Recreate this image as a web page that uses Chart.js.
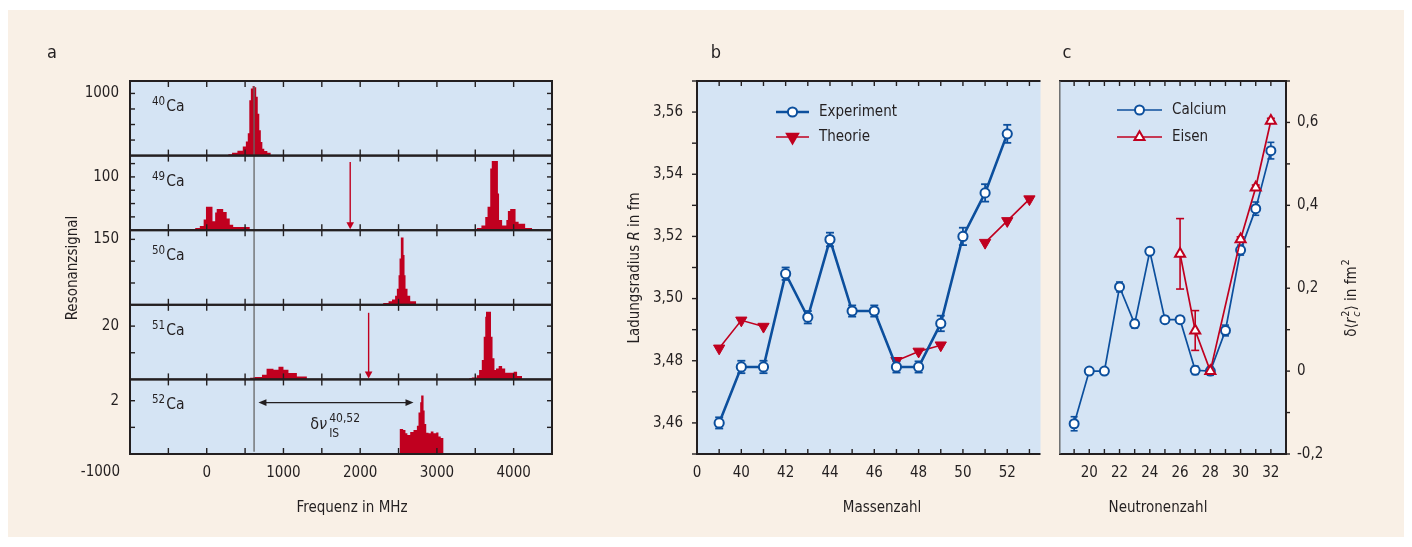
<!DOCTYPE html>
<html>
<head>
<meta charset="utf-8">
<script src="https://cdn.jsdelivr.net/npm/chart.js@4.4.1/dist/chart.umd.min.js"></script>
<style>
  html, body { margin: 0; padding: 0; background: #ffffff; }
  #sheet { position: relative; width: 1412px; height: 547px; overflow: hidden; }
  #paper { position: absolute; left: 8px; top: 10px; width: 1396px; height: 527px; background: #f9f0e6; }
  canvas { position: absolute; top: 0; }
</style>
</head>
<body>
<div id="sheet">
  <div id="paper"></div>
  <canvas id="spectra" width="600" height="547" style="left:0"></canvas>
  <canvas id="radius" width="448" height="547" style="left:600px"></canvas>
  <canvas id="delta" width="363" height="547" style="left:1049px"></canvas>
</div>
<script>
const FONT = "'Liberation Sans Narrow', 'DejaVu Sans Condensed', 'Arial Narrow', sans-serif";
const SIZE = 15;
const INK = '#231f20';
const RED = '#c0001f';
const BLUE = '#0c4f9d';
const PLOT = '#d5e4f4';
const GREY = '#666666';

// ---- panel a: resonance spectra (step start in MHz, signal height) ----
const isotopes = ['40', '49', '50', '51', '52'];
const freq40 = [280, 330, 400, 470, 510, 535, 555, 575, 598, 622, 645, 665, 685, 705, 725, 750, 790, 835];
const sig40 = [20, 45, 80, 145, 225, 360, 890, 1080, 1120, 1100, 945, 675, 406, 220, 110, 75, 45, 0];
const freq49 = [-220, -150, -90, -40, -10, 75, 110, 130, 215, 260, 300, 345, 560,
  3480, 3520, 3580, 3630, 3660, 3695, 3715, 3795, 3810, 3850, 3905, 3925, 3955, 4025, 4065, 4150, 4240, 4335];
const sig49 = [2, 4, 8, 20, 44, 17, 33, 40, 34, 22, 10, 6, 0,
  1, 4, 9, 25, 44, 116, 130, 69, 19, 9, 19, 36, 40, 16, 12, 4, 1.5, 0];
const freq50 = [2270, 2300, 2370, 2415, 2455, 2478, 2500, 2513, 2530, 2565, 2578, 2591, 2617, 2652, 2730];
const sig50 = [2, 4, 8, 12, 21, 37, 68, 106, 154, 114, 68, 37, 21, 8, 0];
const freq51 = [565, 610, 720, 780, 870, 935, 1000, 1065, 1175, 1305,
  3420, 3455, 3520, 3550, 3585, 3610, 3630, 3640, 3705, 3725, 3750, 3770, 3805, 3850, 3890, 4000, 4045, 4110];
const sig51 = [0.6, 0.9, 1.75, 4, 3.6, 4.75, 3.6, 2.4, 1.1, 0,
  0.4, 0.75, 1.6, 3.5, 7.3, 16, 23.5, 25.4, 16, 7.9, 3.5, 4.1, 5, 4.1, 2.5, 2.9, 1.25, 0];
const freq52 = [2513, 2560, 2590, 2615, 2652, 2695, 2739, 2760, 2782, 2795, 2826, 2840, 2861, 2891, 2920, 2955, 2991, 3020, 3050, 3087];
const sig52 = [0.94, 0.9, 0.78, 0.71, 0.83, 0.9, 1.06, 1.56, 1.94, 2.2, 1.63, 1.13, 0.8, 0.78, 0.84, 0.78, 0.81, 0.66, 0.6, 0];
const specFreq = [freq40, freq49, freq50, freq51, freq52];
const specSig = [sig40, sig49, sig50, sig51, sig52];
const sigMax = [1200, 140, 171, 28, 2.8];
const sigTicks = [[250, 500, 750, 1000], [25, 50, 75, 100, 125], [50, 100, 150], [10, 20], [1, 2]];
const sigLabel = [1000, 100, 150, 20, 2];
const freqTicks = [-1000, -500, 0, 500, 1000, 1500, 2000, 2500, 3000, 3500, 4000];
const refFreq = 617;
const arrowFreq = [1870, 2110];
const arrowTop = [128, 25];
const shiftFrom = 674, shiftTo = 2695, shiftLevel = 1.93;

// ---- panel b: charge radius vs mass number ----
const massNumbers = [39, 40, 41, 42, 43, 44, 45, 46, 47, 48, 49, 50, 51, 52, 53];
const radiusExp = [3.460, 3.478, 3.478, 3.508, 3.494, 3.519, 3.496, 3.496, 3.478, 3.478, 3.492, 3.520, 3.534, 3.553, null];
const radiusExpErr = [0.0018, 0.002, 0.002, 0.002, 0.002, 0.0022, 0.0018, 0.0018, 0.0018, 0.0018, 0.0025, 0.0028, 0.0028, 0.0029, null];
const radiusTheo = [3.484, 3.493, 3.491, null, null, null, null, null, 3.480, 3.483, 3.485, null, 3.518, 3.525, 3.532];
const massTicks = [38, 39, 40, 41, 42, 43, 44, 45, 46, 47, 48, 49, 50, 51, 52, 53];
const massLabels = { 38: '0', 40: '40', 42: '42', 44: '44', 46: '46', 48: '48', 50: '50', 52: '52' };
const radiusTicks = [3.45, 3.46, 3.47, 3.48, 3.49, 3.50, 3.51, 3.52, 3.53, 3.54, 3.55, 3.56, 3.57];
const radiusLabels = [3.46, 3.48, 3.50, 3.52, 3.54, 3.56];

// ---- panel c: delta <r^2> vs neutron number ----
const neutrons = [19, 20, 21, 22, 23, 24, 25, 26, 27, 28, 29, 30, 31, 32];
const dr2Ca = [-0.127, 0, 0, 0.203, 0.114, 0.289, 0.124, 0.124, 0.002, 0, 0.098, 0.292, 0.392, 0.532];
const dr2CaErr = [0.017, 0.006, 0.006, 0.012, 0.01, 0.006, 0.008, 0.008, 0.01, 0.01, 0.013, 0.012, 0.016, 0.02];
const dr2Fe = [null, null, null, null, null, null, null, 0.283, 0.098, 0, null, 0.318, 0.443, 0.604];
const dr2FeErr = [null, null, null, null, null, null, null, 0.085, 0.048, 0, null, 0.006, 0.006, 0.006];
const neutronTicks = [18, 19, 20, 21, 22, 23, 24, 25, 26, 27, 28, 29, 30, 31, 32, 33];
const neutronLabels = [20, 22, 24, 26, 28, 30, 32];
const dr2Ticks = [-0.2, -0.1, 0, 0.1, 0.2, 0.3, 0.4, 0.5, 0.6, 0.7];
const dr2Labels = [-0.2, 0, 0.2, 0.4, 0.6];

Chart.defaults.font.family = FONT;
Chart.defaults.font.size = SIZE;
Chart.defaults.color = INK;

// ---- drawing helpers ----
function seg(ctx, x1, y1, x2, y2) {
  ctx.beginPath(); ctx.moveTo(x1, y1); ctx.lineTo(x2, y2); ctx.stroke();
}
function richText(ctx, parts, x, y, align) {
  const fontOf = p => (p.italic ? 'italic ' : '') + (p.size || SIZE) + 'px ' + FONT;
  let width = 0;
  parts.forEach(p => {
    ctx.font = fontOf(p);
    p.w = ctx.measureText(p.t).width;
    if (!p.back) width += p.w + (p.gap || 0);
  });
  let cx = align === 'center' ? x - width / 2 : x;
  ctx.textAlign = 'left';
  ctx.textBaseline = 'alphabetic';
  parts.forEach(p => {
    ctx.font = fontOf(p);
    ctx.fillText(p.t, cx + (p.gap || 0), y + (p.dy || 0));
    if (!p.back) cx += p.w + (p.gap || 0);
  });
}
function vertText(ctx, parts, x, y) {
  ctx.save();
  ctx.translate(x, y);
  ctx.rotate(-Math.PI / 2);
  richText(ctx, parts, 0, 5.5, 'center');
  ctx.restore();
}
function label(ctx, text, x, y, size) {
  ctx.font = (size || SIZE) + 'px ' + FONT;
  ctx.textAlign = 'center';
  ctx.textBaseline = 'middle';
  ctx.fillText(text, x, y);
}
function marker(ctx, style, x, y, r, fill, stroke, lw, down) {
  ctx.beginPath();
  if (style === 'circle') {
    ctx.arc(x, y, r, 0, Math.PI * 2);
  } else {
    const s = down ? -1 : 1;
    ctx.moveTo(x, y - s * r);
    ctx.lineTo(x + r * 0.866, y + s * r * 0.5);
    ctx.lineTo(x - r * 0.866, y + s * r * 0.5);
    ctx.closePath();
  }
  ctx.fillStyle = fill; ctx.fill();
  ctx.lineWidth = lw; ctx.strokeStyle = stroke; ctx.stroke();
}
function legendItem(ctx, x1, x2, y, text, color, lw, style, r, fill, down) {
  ctx.strokeStyle = color; ctx.lineWidth = lw;
  seg(ctx, x1, y, x2, y);
  marker(ctx, style, (x1 + x2) / 2, y, r, fill, color, 2, down);
  ctx.fillStyle = INK;
  ctx.font = SIZE + 'px ' + FONT;
  ctx.textAlign = 'left';
  ctx.textBaseline = 'middle';
  ctx.fillText(text, x2 + 10, y);
}
function errorBars(chart, index, errs, color, cap, lw) {
  const ctx = chart.ctx;
  const meta = chart.getDatasetMeta(index);
  const ys = chart.scales[meta.yAxisID];
  const data = chart.data.datasets[index].data;
  ctx.save();
  ctx.strokeStyle = color; ctx.lineWidth = lw;
  meta.data.forEach((pt, i) => {
    const v = data[i], e = errs[i];
    if (v == null || !e || !isFinite(pt.x)) return;
    const top = ys.getPixelForValue(v + e), bot = ys.getPixelForValue(v - e);
    seg(ctx, pt.x, top, pt.x, bot);
    seg(ctx, pt.x - cap / 2, top, pt.x + cap / 2, top);
    seg(ctx, pt.x - cap / 2, bot, pt.x + cap / 2, bot);
  });
  ctx.restore();
}
function fillPlot(chart) {
  const { ctx, chartArea: a } = chart;
  ctx.save();
  ctx.fillStyle = PLOT;
  ctx.fillRect(a.left, a.top, a.right - a.left, a.bottom - a.top);
  ctx.restore();
}
function arrowHead(ctx, x, y, dx, dy, len, half) {
  ctx.beginPath();
  ctx.moveTo(x, y);
  ctx.lineTo(x - dx * len - dy * half, y - dy * len + dx * half);
  ctx.lineTo(x - dx * len + dy * half, y - dy * len - dx * half);
  ctx.closePath();
  ctx.fill();
}
const hiddenGrid = { display: false, drawTicks: false };

// ---- chart a ----
const spectraDecor = {
  id: 'spectraDecor',
  beforeDraw: fillPlot,
  afterDatasetsDraw(chart) {
    const { ctx, chartArea: a, scales } = chart;
    const x = scales.x;
    ctx.save();
    // 40Ca reference line
    const xr = x.getPixelForValue(refFreq);
    ctx.strokeStyle = GREY; ctx.lineWidth = 1.3;
    seg(ctx, xr, scales.y40.getPixelForValue(1120), xr, scales.y52.getPixelForValue(0.08));
    // red arrows (49Ca, 51Ca)
    ['y49', 'y51'].forEach((id, k) => {
      const px = x.getPixelForValue(arrowFreq[k]);
      const top = scales[id].getPixelForValue(arrowTop[k]);
      const bot = scales[id].bottom - 1;
      ctx.strokeStyle = RED; ctx.fillStyle = RED; ctx.lineWidth = 1.4;
      seg(ctx, px, top, px, bot - 6);
      arrowHead(ctx, px, bot, 0, 1, 7, 3.8);
    });
    // isotope shift arrow in 52Ca
    const y52 = scales.y52;
    const sy = y52.getPixelForValue(shiftLevel);
    const sx1 = x.getPixelForValue(shiftFrom), sx2 = x.getPixelForValue(shiftTo);
    ctx.strokeStyle = INK; ctx.fillStyle = INK; ctx.lineWidth = 1.3;
    seg(ctx, sx1 + 6, sy, sx2 - 6, sy);
    arrowHead(ctx, sx1, sy, -1, 0, 8, 3.4);
    arrowHead(ctx, sx2, sy, 1, 0, 8, 3.4);
    ctx.fillStyle = INK;
    richText(ctx, [
      { t: 'δ', size: 16 }, { t: 'ν', size: 16, italic: true },
      { t: 'IS', size: 12, dy: 8.5, gap: 2, back: true },
      { t: '40,52', size: 12, dy: -6.5, gap: 2 }
    ], x.getPixelForValue(1350), y52.getPixelForValue(0.95), 'left');
    // frames, ticks, isotope labels
    isotopes.forEach((iso, i) => {
      const ys = scales['y' + iso];
      ctx.strokeStyle = INK; ctx.lineWidth = 1.4;
      freqTicks.forEach(v => {
        if (v <= x.min || v >= x.max) return;
        const px = x.getPixelForValue(v);
        seg(ctx, px, ys.top, px, ys.top + 6);
        seg(ctx, px, ys.bottom, px, ys.bottom - 6);
      });
      sigTicks[i].forEach(v => {
        const py = ys.getPixelForValue(v);
        seg(ctx, a.left, py, a.left + 5, py);
        seg(ctx, a.right, py, a.right - 5, py);
      });
      ctx.lineWidth = 2;
      ctx.strokeRect(a.left, ys.top, a.right - a.left, ys.bottom - ys.top);
      ctx.fillStyle = INK;
      richText(ctx, [{ t: iso, size: 11.5, dy: -6 }, { t: 'Ca', size: 15.5, gap: 1 }], a.left + 22, ys.top + 30, 'left');
    });
    // left end tick label, axis titles, panel letter
    ctx.fillStyle = INK;
    ctx.font = SIZE + 'px ' + FONT;
    ctx.textAlign = 'right';
    ctx.textBaseline = 'middle';
    ctx.fillText('-1000', a.left - 10, a.bottom + 18);
    label(ctx, 'Frequenz in MHz', 352, 508);
    vertText(ctx, [{ t: 'Resonanzsignal' }], 71, 268);
    label(ctx, 'a', 52, 53, 18);
    ctx.restore();
  }
};

const specScales = {
  x: {
    type: 'linear', position: 'bottom', min: -1000, max: 4500,
    afterBuildTicks: s => { s.ticks = freqTicks.map(v => ({ value: v })); },
    afterFit: s => { s.height = 40; },
    grid: hiddenGrid, border: { display: false },
    ticks: { autoSkip: false, maxRotation: 0, padding: 10, callback: v => (v % 1000 === 0 && v > -1000) ? String(v) : '' }
  }
};
isotopes.forEach((iso, i) => {
  specScales['y' + iso] = {
    type: 'linear', position: 'left', stack: 'spec', stackWeight: 1, weight: isotopes.length - i,
    min: 0, max: sigMax[i],
    afterBuildTicks: s => { s.ticks = sigTicks[i].map(v => ({ value: v })); },
    afterFit: s => { s.width = 130; },
    grid: hiddenGrid, border: { display: false },
    ticks: { autoSkip: false, padding: 11, callback: v => v === sigLabel[i] ? String(v) : '' }
  };
});

new Chart(document.getElementById('spectra'), {
  type: 'line',
  data: {
    datasets: isotopes.map((iso, i) => ({
      label: iso + 'Ca',
      yAxisID: 'y' + iso, xAxisID: 'x',
      data: specFreq[i].map((f, k) => ({ x: f, y: specSig[i][k] })),
      stepped: true, fill: 'origin',
      backgroundColor: RED, borderColor: 'rgba(0,0,0,0)', borderWidth: 0, pointRadius: 0
    }))
  },
  options: {
    responsive: false, animation: false,
    layout: { padding: { top: 81, left: 0, right: 48, bottom: 53 } },
    plugins: { legend: { display: false }, tooltip: { enabled: false } },
    scales: specScales
  },
  plugins: [spectraDecor]
});

// ---- chart b ----
const radiusDecor = {
  id: 'radiusDecor',
  beforeDraw: fillPlot,
  beforeDatasetsDraw(chart) { errorBars(chart, 0, radiusExpErr, BLUE, 8, 1.8); },
  afterDatasetsDraw(chart) {
    const { ctx, chartArea: a, scales: { x, y } } = chart;
    ctx.save();
    ctx.strokeStyle = INK; ctx.lineWidth = 1.4;
    massTicks.forEach(v => {
      if (v <= x.min) return;
      const px = x.getPixelForValue(v);
      seg(ctx, px, a.top, px, a.top + 5);
      seg(ctx, px, a.bottom, px, a.bottom - 5);
    });
    radiusTicks.forEach(v => {
      const py = y.getPixelForValue(v);
      seg(ctx, a.left, py, a.left - 5, py);
    });
    ctx.lineWidth = 2;
    ctx.beginPath();
    ctx.moveTo(a.right, a.top); ctx.lineTo(a.left, a.top);
    ctx.lineTo(a.left, a.bottom); ctx.lineTo(a.right, a.bottom);
    ctx.stroke();
    legendItem(ctx, 176, 209, 112, 'Experiment', BLUE, 2.6, 'circle', 4.6, '#ffffff', false);
    legendItem(ctx, 176, 209, 137, 'Theorie', RED, 1.6, 'triangle', 6.5, RED, true);
    ctx.fillStyle = INK;
    label(ctx, 'Massenzahl', 282, 508);
    vertText(ctx, [{ t: 'Ladungsradius ' }, { t: 'R', italic: true }, { t: ' in fm' }], 33, 268);
    label(ctx, 'b', 116, 53, 18);
    ctx.restore();
  }
};

new Chart(document.getElementById('radius'), {
  type: 'line',
  data: {
    labels: massNumbers,
    datasets: [
      { label: 'Experiment', data: radiusExp, borderColor: BLUE, borderWidth: 2.6,
        pointStyle: 'circle', pointRadius: 4.6, pointBorderWidth: 2,
        pointBackgroundColor: '#ffffff', pointBorderColor: BLUE },
      { label: 'Theorie', data: radiusTheo, borderColor: RED, borderWidth: 1.6,
        pointStyle: 'triangle', pointRotation: 180, pointRadius: 6.5, pointBorderWidth: 1,
        pointBackgroundColor: RED, pointBorderColor: RED }
    ]
  },
  options: {
    responsive: false, animation: false,
    layout: { padding: { top: 81, left: 0, right: 0, bottom: 53 } },
    plugins: { legend: { display: false }, tooltip: { enabled: false } },
    scales: {
      x: {
        type: 'linear', min: 38, max: 53.5,
        afterBuildTicks: s => { s.ticks = massTicks.map(v => ({ value: v })); },
        afterFit: s => { s.height = 40; },
        grid: hiddenGrid, border: { display: false },
        ticks: { autoSkip: false, maxRotation: 0, padding: 10, callback: v => massLabels[v] || '' }
      },
      y: {
        type: 'linear', position: 'left', min: 3.45, max: 3.57,
        afterBuildTicks: s => { s.ticks = radiusTicks.map(v => ({ value: v })); },
        afterFit: s => { s.width = 97; },
        grid: hiddenGrid, border: { display: false },
        ticks: { autoSkip: false, padding: 14, callback: v => radiusLabels.includes(v) ? v.toFixed(2).replace('.', ',') : '' }
      }
    }
  },
  plugins: [radiusDecor]
});

// ---- chart c ----
const deltaDecor = {
  id: 'deltaDecor',
  beforeDraw: fillPlot,
  beforeDatasetsDraw(chart) {
    errorBars(chart, 1, dr2CaErr, BLUE, 7, 1.6);
    errorBars(chart, 0, dr2FeErr, RED, 8, 1.6);
  },
  afterDatasetsDraw(chart) {
    const { ctx, chartArea: a, scales: { x, y } } = chart;
    ctx.save();
    ctx.strokeStyle = INK; ctx.lineWidth = 1.4;
    neutronTicks.forEach(v => {
      if (v <= x.min || v >= x.max) return;
      const px = x.getPixelForValue(v);
      seg(ctx, px, a.top, px, a.top + 5);
      seg(ctx, px, a.bottom, px, a.bottom - 5);
    });
    dr2Ticks.forEach(v => {
      const py = y.getPixelForValue(v);
      seg(ctx, a.right, py, a.right + 4, py);
    });
    ctx.lineWidth = 2;
    ctx.beginPath();
    ctx.moveTo(a.left, a.top); ctx.lineTo(a.right, a.top);
    ctx.lineTo(a.right, a.bottom); ctx.lineTo(a.left, a.bottom);
    ctx.stroke();
    ctx.strokeStyle = GREY; ctx.lineWidth = 1.4;
    seg(ctx, a.left + 0.8, a.top, a.left + 0.8, a.bottom);
    legendItem(ctx, 68, 113, 110, 'Calcium', BLUE, 1.7, 'circle', 4.5, '#ffffff', false);
    legendItem(ctx, 68, 113, 137, 'Eisen', RED, 1.7, 'triangle', 5.8, '#ffffff', false);
    ctx.fillStyle = INK;
    label(ctx, 'Neutronenzahl', 109, 508);
    vertText(ctx, [
      { t: 'δ⟨' }, { t: 'r', italic: true },
      { t: 'c', italic: true, size: 11, dy: 4, back: true, gap: 1 },
      { t: '2', size: 11, dy: -7, gap: 1 },
      { t: '⟩ in fm' }, { t: '2', size: 11, dy: -7, gap: 1 }
    ], 301, 298);
    label(ctx, 'c', 18, 53, 18);
    ctx.restore();
  }
};

new Chart(document.getElementById('delta'), {
  type: 'line',
  data: {
    labels: neutrons,
    datasets: [
      { label: 'Eisen', data: dr2Fe, borderColor: RED, borderWidth: 1.7, spanGaps: true,
        pointStyle: 'triangle', pointRadius: 5.8, pointBorderWidth: 2,
        pointBackgroundColor: '#ffffff', pointBorderColor: RED },
      { label: 'Calcium', data: dr2Ca, borderColor: BLUE, borderWidth: 1.7,
        pointStyle: 'circle', pointRadius: 4.5, pointBorderWidth: 2,
        pointBackgroundColor: '#ffffff', pointBorderColor: BLUE }
    ]
  },
  options: {
    responsive: false, animation: false,
    layout: { padding: { top: 81, left: 0, right: 0, bottom: 53 } },
    plugins: { legend: { display: false }, tooltip: { enabled: false } },
    scales: {
      x: {
        type: 'linear', min: 18, max: 33,
        afterBuildTicks: s => { s.ticks = neutronTicks.map(v => ({ value: v })); },
        afterFit: s => { s.height = 40; },
        grid: hiddenGrid, border: { display: false },
        ticks: { autoSkip: false, maxRotation: 0, padding: 10, callback: v => neutronLabels.includes(v) ? String(v) : '' }
      },
      y: {
        type: 'linear', position: 'right', min: -0.2, max: 0.7,
        afterBuildTicks: s => { s.ticks = dr2Ticks.map(v => ({ value: v })); },
        afterFit: s => { s.width = 126; },
        grid: hiddenGrid, border: { display: false },
        ticks: { autoSkip: false, padding: 11, callback: v => dr2Labels.includes(v) ? (v === 0 ? '0' : v.toFixed(1).replace('.', ',')) : '' }
      }
    }
  },
  plugins: [deltaDecor]
});
</script>
</body>
</html>
